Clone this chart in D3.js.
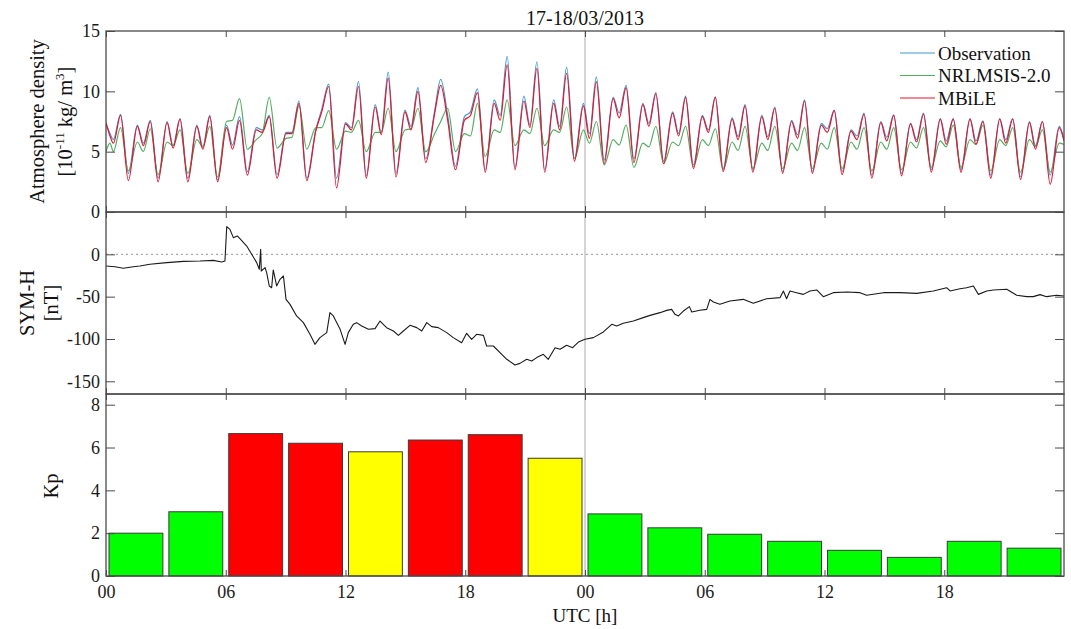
<!DOCTYPE html>
<html>
<head>
<meta charset="utf-8">
<script src="https://cdn.jsdelivr.net/npm/d3@7"></script>
<style>
  body { margin: 0; background: #fff; }
  svg { display: block; font-family: "Liberation Serif", "Times New Roman", serif; }
</style>
</head>
<body>
<svg id="chart" width="1071" height="629"></svg>
<script>
// ---- Data: 17-18 March 2013 storm ----
// Sample times (hours from 17/03 00 UTC) of the density series
const hours = [
  0, 0.2, 0.37, 0.73,
  1.12, 1.57, 1.87, 2.22,   2.61, 3.06, 3.36, 3.71,   4.10, 4.55, 4.85, 5.20,
  5.59, 6.04, 6.34, 6.69,   7.08, 7.53, 7.83, 8.18,   8.57, 9.02, 9.32, 9.67,
  10.06, 10.51, 10.81, 11.16, 11.55, 12.00, 12.30, 12.65, 13.04, 13.49, 13.79, 14.14,
  14.53, 14.98, 15.28, 15.63, 16.02, 16.47, 16.77, 17.12, 17.51, 17.96, 18.26, 18.61,
  19.00, 19.45, 19.75, 20.10, 20.49, 20.94, 21.24, 21.59, 21.98, 22.43, 22.73, 23.08,
  23.47, 23.92, 24.22, 24.57, 24.96, 25.41, 25.71, 26.06, 26.45, 26.90, 27.20, 27.55,
  27.94, 28.39, 28.69, 29.04, 29.43, 29.88, 30.18, 30.53, 30.92, 31.37, 31.67, 32.02,
  32.41, 32.86, 33.16, 33.51, 33.90, 34.35, 34.65, 35.00, 35.39, 35.84, 36.14, 36.49,
  36.88, 37.33, 37.63, 37.98, 38.37, 38.82, 39.12, 39.47, 39.86, 40.31, 40.61, 40.96,
  41.35, 41.80, 42.10, 42.45, 42.84, 43.29, 43.59, 43.94, 44.33, 44.78, 45.08, 45.43,
  45.82, 46.27, 46.57, 46.92, 47.31, 47.76, 48.0
];
// Atmosphere density, 1e-11 kg/m^3
const observation = [
  7.3, 6.5, 6.0, 8.1,
  3.2, 7.2, 5.7, 7.6,   2.8, 7.5, 5.5, 7.75,  2.8, 7.2, 5.4, 8.0,
  2.65, 7.2, 5.55, 7.9, 3.35, 7.0, 6.8, 8.0,  3.1, 6.6, 6.6, 9.2,
  2.8, 6.8, 8.5, 10.6,  2.8, 7.4, 7.0, 10.8,  3.0, 8.9, 6.6, 11.6,
  3.2, 8.45, 7.1, 10.3, 4.4, 8.4, 11.0, 8.0,  3.8, 7.9, 8.3, 10.2,
  3.5, 9.3, 8.0, 12.9,  3.7, 9.6, 7.2, 12.45, 3.5, 9.3, 7.1, 12.0,
  4.45, 9.0, 6.5, 11.2, 4.3, 9.5, 8.2, 10.5,  4.4, 9.0, 7.35, 9.9,
  4.2, 8.3, 6.5, 9.6,   3.9, 8.0, 6.8, 9.55,  3.6, 7.8, 6.25, 8.9,
  3.5, 8.0, 6.25, 8.7,  3.35, 7.6, 6.4, 9.3,  3.35, 7.35, 6.9, 8.45,
  3.35, 6.8, 6.3, 8.2,  3.05, 7.5, 6.2, 8.05, 3.2, 7.35, 6.0, 8.2,
  3.5, 7.75, 5.9, 7.75, 3.5, 7.75, 5.9, 7.55, 3.05, 7.75, 6.0, 7.75,
  2.9, 7.5, 5.5, 7.5,   3.05, 7.1, 6.0
];
const nrlmsis = [
  5.0, 5.7, 5.0, 7.0,
  3.4, 5.8, 5.0, 6.9,   3.1, 5.8, 5.5, 6.8,   3.2, 6.0, 5.4, 7.1,
  2.9, 7.5, 7.6, 9.4,   5.2, 6.0, 6.5, 9.5,   5.3, 6.1, 6.2, 8.8,
  5.2, 7.0, 7.0, 8.4,   5.2, 6.7, 6.6, 7.6,   5.0, 6.6, 6.6, 8.6,
  5.0, 6.8, 6.9, 8.6,   5.0, 6.5, 7.5, 8.6,   5.0, 6.5, 6.3, 9.0,
  4.6, 6.8, 6.6, 9.3,   5.5, 6.8, 6.5, 8.6,   5.5, 6.8, 6.6, 8.7,
  4.4, 6.8, 5.7, 7.5,   3.9, 6.0, 5.55, 7.2,  3.7, 5.7, 5.4, 7.1,
  4.0, 5.8, 5.5, 7.1,   3.75, 6.0, 5.5, 6.9,  3.5, 5.8, 5.1, 7.1,
  3.6, 5.7, 5.1, 7.1,   3.6, 5.7, 5.1, 7.0,   3.6, 5.7, 5.2, 7.0,
  3.6, 5.8, 5.2, 7.0,   3.4, 5.8, 5.2, 7.0,   3.5, 5.8, 5.3, 7.0,
  3.7, 5.9, 5.4, 7.2,   3.7, 6.0, 5.6, 7.2,   3.4, 6.0, 5.5, 7.0,
  3.3, 6.0, 5.4, 6.8,   3.3, 5.7, 5.6
];
const mbile = [
  7.4, 6.3, 5.7, 8.0,
  2.6, 7.1, 5.5, 7.5,   2.5, 7.4, 5.3, 7.7,   2.5, 7.1, 5.2, 7.9,
  2.5, 7.0, 5.2, 7.6,   3.05, 6.8, 6.6, 7.9,  2.8, 6.5, 6.5, 9.0,
  2.6, 6.7, 8.3, 10.4,  2.0, 7.3, 6.8, 10.4,  2.8, 8.7, 6.4, 11.1,
  2.9, 8.3, 6.8, 10.0,  4.1, 8.2, 10.5, 7.6,  3.5, 7.6, 8.0, 9.9,
  3.3, 9.0, 7.6, 12.2,  3.5, 9.2, 7.0, 11.9,  3.3, 9.0, 6.8, 11.5,
  4.2, 8.8, 6.1, 10.8,  4.0, 9.4, 7.8, 10.3,  4.1, 8.9, 7.1, 9.8,
  4.0, 8.2, 6.3, 9.5,   3.6, 7.9, 6.6, 9.5,   3.35, 7.7, 6.0, 8.8,
  3.3, 7.9, 6.0, 8.6,   3.2, 7.5, 6.1, 9.2,   3.2, 7.2, 6.6, 8.4,
  3.1, 6.7, 6.0, 8.1,   2.8, 7.4, 5.9, 8.0,   3.0, 7.3, 5.8, 8.1,
  3.3, 7.7, 5.6, 7.7,   3.3, 7.7, 5.6, 7.5,   2.8, 7.7, 5.7, 7.7,
  2.7, 7.4, 5.2, 7.5,   2.3, 7.0, 5.9
];

// SYM-H index (nT)
const symHours = [
  0, 0.45, 0.87, 1.37, 1.70, 2.20, 3.04, 3.88, 4.71, 5.38, 5.80, 5.96,
  6.05, 6.21, 6.38, 6.58, 6.71, 7.05, 7.30, 7.55, 7.68, 7.75, 7.78, 7.97,
  8.05, 8.18, 8.30, 8.38, 8.55, 8.72, 8.89, 9.02, 9.22, 9.55, 9.89, 10.22,
  10.47, 10.72, 11.06, 11.22, 11.39, 11.73, 11.98, 12.14, 12.39, 12.56, 12.81, 13.15,
  13.48, 13.73, 14.06, 14.40, 14.65, 14.90, 15.23, 15.57, 15.82, 16.07, 16.32, 16.65,
  17.07, 17.40, 17.82, 18.07, 18.32, 18.57, 18.91, 19.07, 19.41, 19.74, 20.08, 20.49,
  20.74, 21.08, 21.33, 21.58, 21.91, 22.16, 22.50, 22.75, 23.08, 23.38, 23.67, 24.00,
  24.42, 24.92, 25.34, 25.59, 25.92, 26.42, 26.92, 27.26, 27.76, 28.09, 28.34, 28.51,
  28.68, 28.93, 29.23, 29.35, 29.76, 30.10, 30.26, 30.43, 30.76, 31.26, 31.93, 32.43,
  33.10, 33.77, 33.94, 34.10, 34.27, 34.60, 34.94, 35.27, 35.61, 35.94, 36.44, 37.11,
  37.78, 38.11, 38.95, 39.78, 40.62, 41.45, 42.12, 42.29, 42.79, 43.12, 43.46, 43.71,
  44.13, 44.46, 45.13, 45.63, 46.13, 46.46, 46.80, 47.13, 47.63, 48.0
];
const symH = [
  -13.8, -14.6, -16.5, -14.6, -13.8, -11.8, -9.8, -8.3, -7.9, -7.1, -9.1, -7.9,
  32.7, 29.5, 19.7, 21.7, 18.5, 9.8, 0, -9.8, -17.7, 5.9, -19.7, -15.7,
  -21.7, -37.4, -39.4, -18.5, -37.4, -29.5, -25.6, -53.2, -59.1, -72.8, -80.7, -94.5,
  -106.3, -98.4, -92.5, -68.9, -72.8, -88.6, -106.3, -92.5, -82.7, -80.7, -84.7, -88.6,
  -87.8, -78.8, -86.6, -90.6, -95.7, -90.6, -83.9, -86.6, -90.6, -80.7, -85.4, -86.6,
  -92.5, -98.4, -104.4, -93.3, -100.4, -94.5, -95.7, -108.3, -108.3, -116.2, -124, -130.7,
  -128.8, -124, -126, -122, -118.1, -124, -110.3, -112.2, -107.5, -110.3, -103.6, -100.4,
  -98.4, -91.7, -82.7, -84.7, -81.5, -78.8, -74.8, -72.1, -68.9, -66.2, -65, -70.9,
  -72.8, -67, -61.8, -68.1, -66, -65, -53.2, -56.3, -59.1, -55.1, -53.2, -57.9,
  -52.4, -51.2, -43.3, -52.4, -43.3, -45.3, -47.3, -43.3, -42.1, -50, -45.3, -44.5,
  -45.3, -48.4, -45.3, -45.3, -46.1, -43.3, -39.4, -43.3, -40.6, -39.4, -37.4, -47.3,
  -43.3, -42.1, -41.3, -48.4, -50, -50, -47.6, -50, -48.4, -49.2
];

// 3-hourly Kp index
const kpValues = [2.0, 3.0, 6.65, 6.2, 5.8, 6.35, 6.6, 5.5, 2.9, 2.25, 1.95, 1.62, 1.2, 0.87, 1.62, 1.3];

// Axis ticks and labels
const tickHours = [0, 6, 12, 18, 24, 30, 36, 42];
const tickLabels = ["00", "06", "12", "18", "00", "06", "12", "18"];
const densityTicks = [0, 5, 10, 15];
const symTicks = [-150, -100, -50, 0];
const kpTicks = [0, 2, 4, 6, 8];
const seriesNames = ["Observation", "NRLMSIS-2.0", "MBiLE"];
const seriesColors = ["#3d98d0", "#55ad63", "#e8132c"];

// ---- Layout ----
const svg = d3.select("#chart");
const left = 106, right = 1064;
const panels = {
  den: { top: 31, bottom: 212 },
  sym: { top: 212, bottom: 394 },
  kp:  { top: 394, bottom: 576 }
};
const frameColor = "#4a4a4a";
const fontSize = 18;

const x = d3.scaleLinear().domain([0, 48]).range([left, right]);
const yDen = d3.scaleLinear().domain([0, 15]).range([panels.den.bottom, panels.den.top]);
const ySym = d3.scaleLinear().domain([-165, 50]).range([panels.sym.bottom, panels.sym.top]);
const yKp = d3.scaleLinear().domain([0, 8.5]).range([panels.kp.bottom, panels.kp.top]);

// plain hyphen for negative tick labels
const plainFormat = d => String(d);

// clip paths for each panel
const defs = svg.append("defs");
Object.entries(panels).forEach(([key, p]) => {
  defs.append("clipPath").attr("id", "clip-" + key)
    .append("rect").attr("x", left).attr("y", p.top)
    .attr("width", right - left).attr("height", p.bottom - p.top);
});

// day boundary line
svg.append("line")
  .attr("x1", x(24)).attr("x2", x(24))
  .attr("y1", panels.den.top).attr("y2", panels.kp.bottom)
  .attr("stroke", "#a0a0a0").attr("stroke-width", 0.9);

// zero line of SYM-H
svg.append("line")
  .attr("x1", left).attr("x2", right)
  .attr("y1", ySym(0)).attr("y2", ySym(0))
  .attr("stroke", "#8c8c8c").attr("stroke-width", 0.9)
  .attr("stroke-dasharray", "2,3");

// ---- Density panel ----
const denLine = values => d3.line()
  .x((d, i) => x(hours[i]))
  .y(d => yDen(d))
  .curve(d3.curveMonotoneX)(values);

const denGroup = svg.append("g").attr("clip-path", "url(#clip-den)");
[observation, nrlmsis, mbile].forEach((vals, i) => {
  denGroup.append("path")
    .attr("d", denLine(vals))
    .attr("fill", "none")
    .attr("stroke", seriesColors[i])
    .attr("stroke-width", 1.2)
    .attr("stroke-linejoin", "round");
});

// ---- SYM-H panel ----
svg.append("g").attr("clip-path", "url(#clip-sym)")
  .append("path")
  .attr("d", d3.line().x((d, i) => x(symHours[i])).y(d => ySym(d))(symH))
  .attr("fill", "none")
  .attr("stroke", "#1a1a1a")
  .attr("stroke-width", 1.1)
  .attr("stroke-linejoin", "round");

// ---- Kp panel ----
const band = d3.scaleBand()
  .domain(d3.range(kpValues.length))
  .range([left, right])
  .paddingInner(0.1)
  .paddingOuter(0.05);
const kpColor = v => v >= 6 ? "#ff0000" : (v >= 5 ? "#ffff00" : "#00ff00");

svg.append("g").selectAll("rect")
  .data(kpValues)
  .join("rect")
  .attr("x", (d, i) => band(i))
  .attr("width", band.bandwidth())
  .attr("y", d => yKp(d))
  .attr("height", d => yKp(0) - yKp(d))
  .attr("fill", d => kpColor(d))
  .attr("stroke", "#3a3a3a")
  .attr("stroke-width", 1);

// ---- Axes and frames ----
function styleAxis(g) {
  g.select(".domain").remove();
  g.selectAll(".tick line").attr("stroke", frameColor).attr("stroke-width", 1);
  g.selectAll(".tick text")
    .attr("fill", "#1a1a1a")
    .attr("font-size", fontSize)
    .attr("font-family", "Liberation Serif, Times New Roman, serif");
}

function yAxes(scale, ticks, p) {
  svg.append("g").attr("transform", `translate(${left},0)`)
    .call(d3.axisLeft(scale).tickValues(ticks).tickSize(-9).tickPadding(6).tickFormat(plainFormat))
    .call(styleAxis);
  svg.append("g").attr("transform", `translate(${right},0)`)
    .call(d3.axisRight(scale).tickValues(ticks).tickSize(-9).tickFormat(""))
    .call(styleAxis);
  // x ticks on top and bottom edges of the panel
  svg.append("g").attr("transform", `translate(0,${p.top})`)
    .call(d3.axisTop(x).tickValues(tickHours).tickSize(-6).tickFormat(""))
    .call(styleAxis);
  svg.append("g").attr("transform", `translate(0,${p.bottom})`)
    .call(d3.axisBottom(x).tickValues(tickHours).tickSize(-6).tickFormat(""))
    .call(styleAxis);
  svg.append("rect")
    .attr("x", left).attr("y", p.top)
    .attr("width", right - left).attr("height", p.bottom - p.top)
    .attr("fill", "none").attr("stroke", frameColor).attr("stroke-width", 1.3);
}

yAxes(yDen, densityTicks, panels.den);
yAxes(ySym, symTicks, panels.sym);
yAxes(yKp, kpTicks, panels.kp);

// time labels under the Kp panel
svg.append("g").attr("transform", `translate(0,${panels.kp.bottom})`)
  .call(d3.axisBottom(x).tickValues(tickHours).tickSize(0).tickPadding(9)
    .tickFormat((d, i) => tickLabels[i]))
  .call(styleAxis);

// ---- Legend ----
const legend = svg.append("g");
seriesNames.forEach((name, i) => {
  const ly = 53 + i * 22.5;
  legend.append("line")
    .attr("x1", 900).attr("x2", 935).attr("y1", ly).attr("y2", ly)
    .attr("stroke", seriesColors[i]).attr("stroke-width", 1.2);
  legend.append("text")
    .attr("x", 938).attr("y", ly).attr("dy", "0.35em")
    .attr("font-size", 19).attr("fill", "#111")
    .text(name);
});

// ---- Titles and axis labels ----
svg.append("text")
  .attr("x", x(24)).attr("y", 25)
  .attr("text-anchor", "middle").attr("font-size", 20).attr("fill", "#111")
  .text("17-18/03/2013");

function vLabel(tx, ty, build, size) {
  const t = svg.append("text")
    .attr("transform", `translate(${tx},${ty}) rotate(-90)`)
    .attr("text-anchor", "middle")
    .attr("font-size", size).attr("fill", "#111");
  build(t);
  return t;
}

const denMid = (panels.den.top + panels.den.bottom) / 2;
vLabel(44, denMid, t => t.text("Atmosphere density"), 20.5);
vLabel(72, denMid, t => {
  t.append("tspan").text("[10");
  t.append("tspan").attr("font-size", 13).attr("dy", -8).text("-11");
  t.append("tspan").attr("dy", 8).text(" kg/ m");
  t.append("tspan").attr("font-size", 13).attr("dy", -8).text("3");
  t.append("tspan").attr("dy", 8).text("]");
}, 20.5);

const symMid = (panels.sym.top + panels.sym.bottom) / 2;
vLabel(34, symMid, t => t.text("SYM-H"), 20.5);
vLabel(58, symMid, t => t.text("[nT]"), 20.5);

vLabel(58, 486, t => t.text("Kp"), 20.5);

svg.append("text")
  .attr("x", x(24)).attr("y", 622)
  .attr("text-anchor", "middle").attr("font-size", 19).attr("fill", "#111")
  .text("UTC [h]");
</script>
</body>
</html>
